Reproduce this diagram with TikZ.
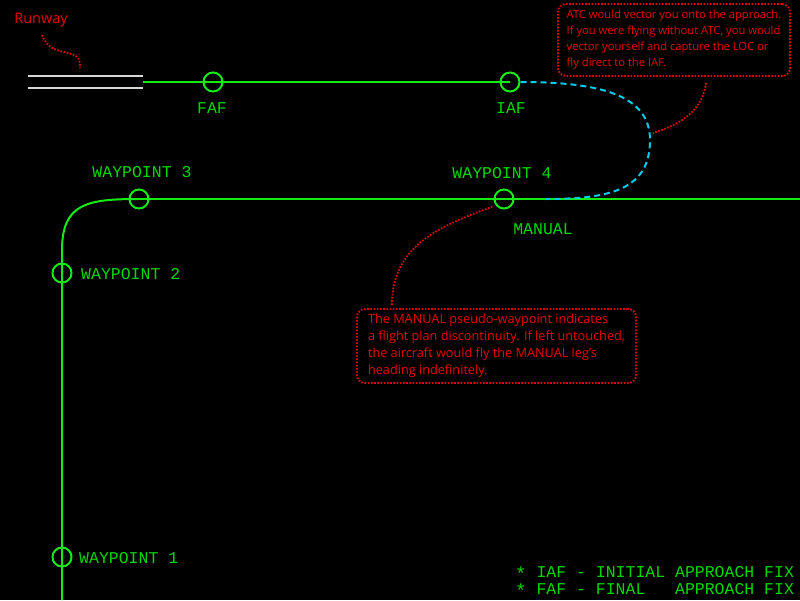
\documentclass[tikz,border=0pt]{standalone}
\usepackage{fontspec}
\setmainfont{Open Sans}
\newfontfamily\fmsfont{Liberation Mono}
\definecolor{fmsgreen}{RGB}{20,235,20}
\definecolor{fmstext}{RGB}{0,215,0}
\definecolor{noteRed}{RGB}{235,0,0}
\definecolor{appcyan}{RGB}{0,205,235}
\definecolor{rwygray}{RGB}{215,215,215}
\begin{document}
\begin{tikzpicture}[x=1pt,y=-1pt,
  fix/.style={circle, draw=fmsgreen, line width=2pt, minimum size=19pt, inner sep=0pt},
  route/.style={draw=fmsgreen, line width=2pt},
  approach/.style={draw=appcyan, line width=2pt, dash pattern=on 6pt off 4pt},
  fmslabel/.style={text=fmstext, font=\fmsfont\fontsize{16.5}{17}\selectfont, inner sep=0pt},
  note/.style={draw=noteRed, line width=1.8pt, dash pattern=on 1.6pt off 1.6pt, rounded corners=8pt, text=noteRed, align=left, inner sep=0pt},
  leader/.style={draw=noteRed, line width=1.8pt, dash pattern=on 1.6pt off 1.6pt},
  rwyline/.style={draw=rwygray, line width=2pt}]
\fill[black] (0,0) rectangle (800,600);
\useasboundingbox (0,0) rectangle (800,600);

% runway
\coordinate (rwyA1) at (28,76);
\coordinate (rwyB1) at (143,76);
\coordinate (rwyA2) at (28,88);
\coordinate (rwyB2) at (143,88);
\coordinate (rwyend) at (143,82);
\draw[rwyline] (rwyA1) -- (rwyB1);
\draw[rwyline] (rwyA2) -- (rwyB2);

% fixes
\node[fix] (faf) at (213,82) {};
\node[fix] (iaf) at (510,82) {};
\node[fix] (wp3) at (139,199) {};
\node[fix] (wp4) at (504,199) {};
\node[fix] (wp2) at (62,273) {};
\node[fix] (wp1) at (62,557) {};

\coordinate (rightend) at (800,199);
\coordinate (corner) at (62,250);
\coordinate (bottom) at (62,600);
\coordinate (join) at (545,199);

% routes
\draw[route] (rwyend) -- (faf.center) -- (iaf.center);
\draw[route] (wp3.center) -- (wp4.center) -- (rightend);
\draw[route] (bottom) -- (wp1.center) -- (wp2.center) -- (corner)
  .. controls (62,203) and (88,199) .. (wp3.center);
\draw[approach] (iaf.east) .. controls (600,82) and (650,95) .. (650,140)
  .. controls (650,190) and (610,199) .. (join);

% labels
\node[fmslabel, anchor=base] (faflbl) at (212,113) {FAF};
\node[fmslabel, anchor=base] (iaflbl) at (511,113) {IAF};
\node[fmslabel, anchor=base] (wp3lbl) at (142,177) {WAYPOINT 3};
\node[fmslabel, anchor=base] (wp4lbl) at (502,178) {WAYPOINT 4};
\node[fmslabel, anchor=base] (manlbl) at (543,234) {MANUAL};
\node[fmslabel, anchor=base west] (wp2lbl) at (81,279) {WAYPOINT 2};
\node[fmslabel, anchor=base west] (wp1lbl) at (79,563) {WAYPOINT 1};
\node[fmslabel, align=left, anchor=base west] (legend) at (515,594)
  {\raisebox{-3.5pt}{\fontsize{19}{19}\selectfont*}\ IAF\ -\ INITIAL\ APPROACH\ FIX\\
   \raisebox{-3.5pt}{\fontsize{19}{19}\selectfont*}\ FAF\ -\ FINAL\ \ \ APPROACH\ FIX};

% notes
\node[text=noteRed, font=\fontsize{14.5}{17}\selectfont, inner sep=0pt] (rwylbl) at (41,20) {Runway};
\coordinate (rwyptA) at (42,35);
\coordinate (rwyptB) at (80,68);
\draw[leader] (rwyptA) .. controls (48,50) and (58,50) .. (68,53)
  .. controls (80,56) and (80,60) .. (rwyptB);

\node[note, font=\fontsize{11.2}{16}\selectfont, minimum width=232pt, minimum height=72pt] (atcnote) at (674,40)
  {ATC would vector you onto the approach.\\
   If you were flying without ATC, you would\\
   vector yourself and capture the LOC or\\
   fly direct to the IAF.};
\coordinate (atcA) at (706,83);
\coordinate (atcB) at (653,133);
\draw[leader] (atcA) .. controls (703,110) and (680,125) .. (atcB);

\node[note, font=\fontsize{12.7}{17}\selectfont, minimum width=279pt, minimum height=74pt] (mannote) at (496.5,346)
  {The MANUAL pseudo-waypoint indicates\\
   a flight plan discontinuity. If left untouched,\\
   the aircraft would fly the MANUAL leg's\\
   heading indefinitely.};
\coordinate (manA) at (392,305);
\coordinate (manB) at (494,206);
\draw[leader] (manA) .. controls (392,245) and (440,226) .. (manB);
\end{tikzpicture}
\end{document}
